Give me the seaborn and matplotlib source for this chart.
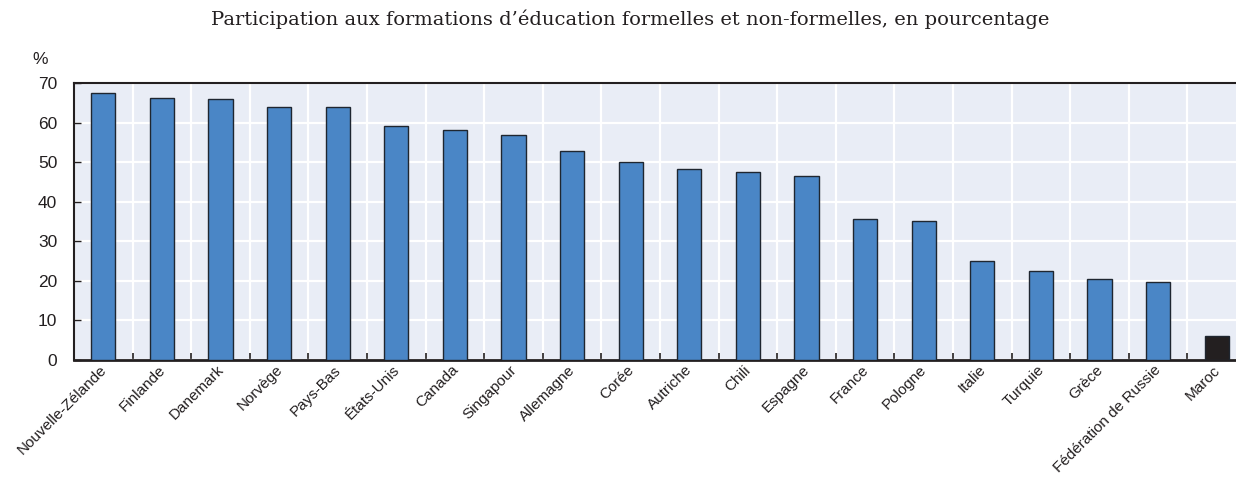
import matplotlib
matplotlib.use('Agg')

import matplotlib.pyplot as plt
import matplotlib.transforms as mtransforms
import seaborn as sns
import numpy as np

# Data
countries = ['Nouvelle-Zélande', 'Finlande', 'Danemark', 'Norvège', 'Pays-Bas',
             'États-Unis', 'Canada', 'Singapour', 'Allemagne', 'Corée',
             'Autriche', 'Chili', 'Espagne', 'France', 'Pologne', 'Italie',
             'Turquie', 'Grèce', 'Fédération de Russie', 'Maroc']
values = [67.4, 66.2, 66.0, 64.0, 63.9, 59.2, 58.2, 56.9, 52.8, 50.0,
          48.3, 47.4, 46.4, 35.6, 35.2, 24.9, 22.6, 20.4, 19.7, 6.0]
highlight = 'Maroc'

blue = '#4A86C6'
dark = '#231F20'
colors = {c: (dark if c == highlight else blue) for c in countries}

sns.set_style('white')
plt.rcParams['font.family'] = ['Liberation Sans', 'DejaVu Sans']

fig = plt.figure(figsize=(12.36, 4.8), dpi=100)
ax = fig.add_axes([74 / 1236, 120 / 480, 1172 / 1236, 277 / 480])
ax.set_facecolor('#E9EDF6')

sns.barplot(x=countries, y=values, hue=countries, palette=colors, legend=False,
            width=0.41, saturation=1, edgecolor='#1F2630', linewidth=1.0,
            ax=ax, zorder=3)

ax.set_xlim(-0.5, len(countries) - 0.5)
ax.set_ylim(0, 70)
ax.set_yticks(range(0, 71, 10))
ax.set_xticks(np.arange(-0.5, len(countries), 1), minor=True)

ax.grid(False)
ax.grid(axis='y', which='major', color='white', linewidth=1.6, zorder=1)
ax.grid(axis='x', which='minor', color='white', linewidth=1.6, zorder=1)

ax.tick_params(axis='x', which='major', length=0, pad=2)
ax.tick_params(axis='x', which='minor', direction='in', length=5, width=1.2,
               color='#231F20', bottom=True)
ax.tick_params(axis='y', direction='in', length=5, width=1.0, color='#231F20',
               labelsize=12.5, pad=12, left=True, labelcolor='#231F20')

ax.set_xticks(range(len(countries)))
ax.set_xticklabels(countries, rotation=45, ha='right', rotation_mode='anchor',
                   fontsize=11, color='#231F20')
shift = mtransforms.ScaledTranslation(-0.04, 0.0, fig.dpi_scale_trans)
for lab in ax.get_xticklabels():
    lab.set_transform(lab.get_transform() + shift)

for side in ['top', 'left', 'bottom']:
    ax.spines[side].set_visible(True)
    ax.spines[side].set_color('#231F20')
ax.spines['top'].set_linewidth(1.5)
ax.spines['left'].set_linewidth(1.5)
ax.spines['bottom'].set_linewidth(2.0)
ax.spines['right'].set_visible(False)

ax.set_xlabel('')
ax.set_ylabel('')

fig.text(40 / 1236, 1 - 60 / 480, '%', fontsize=12.5, color='#231F20',
         ha='center', va='center')
fig.text(630 / 1236, 1 - 19 / 480,
         'Participation aux formations d\u2019éducation formelles et non-formelles, en pourcentage',
         fontsize=14, ha='center', va='center', color='#231F20',
         family=['DejaVu Serif'])

plt.savefig('out.png', dpi=100)
